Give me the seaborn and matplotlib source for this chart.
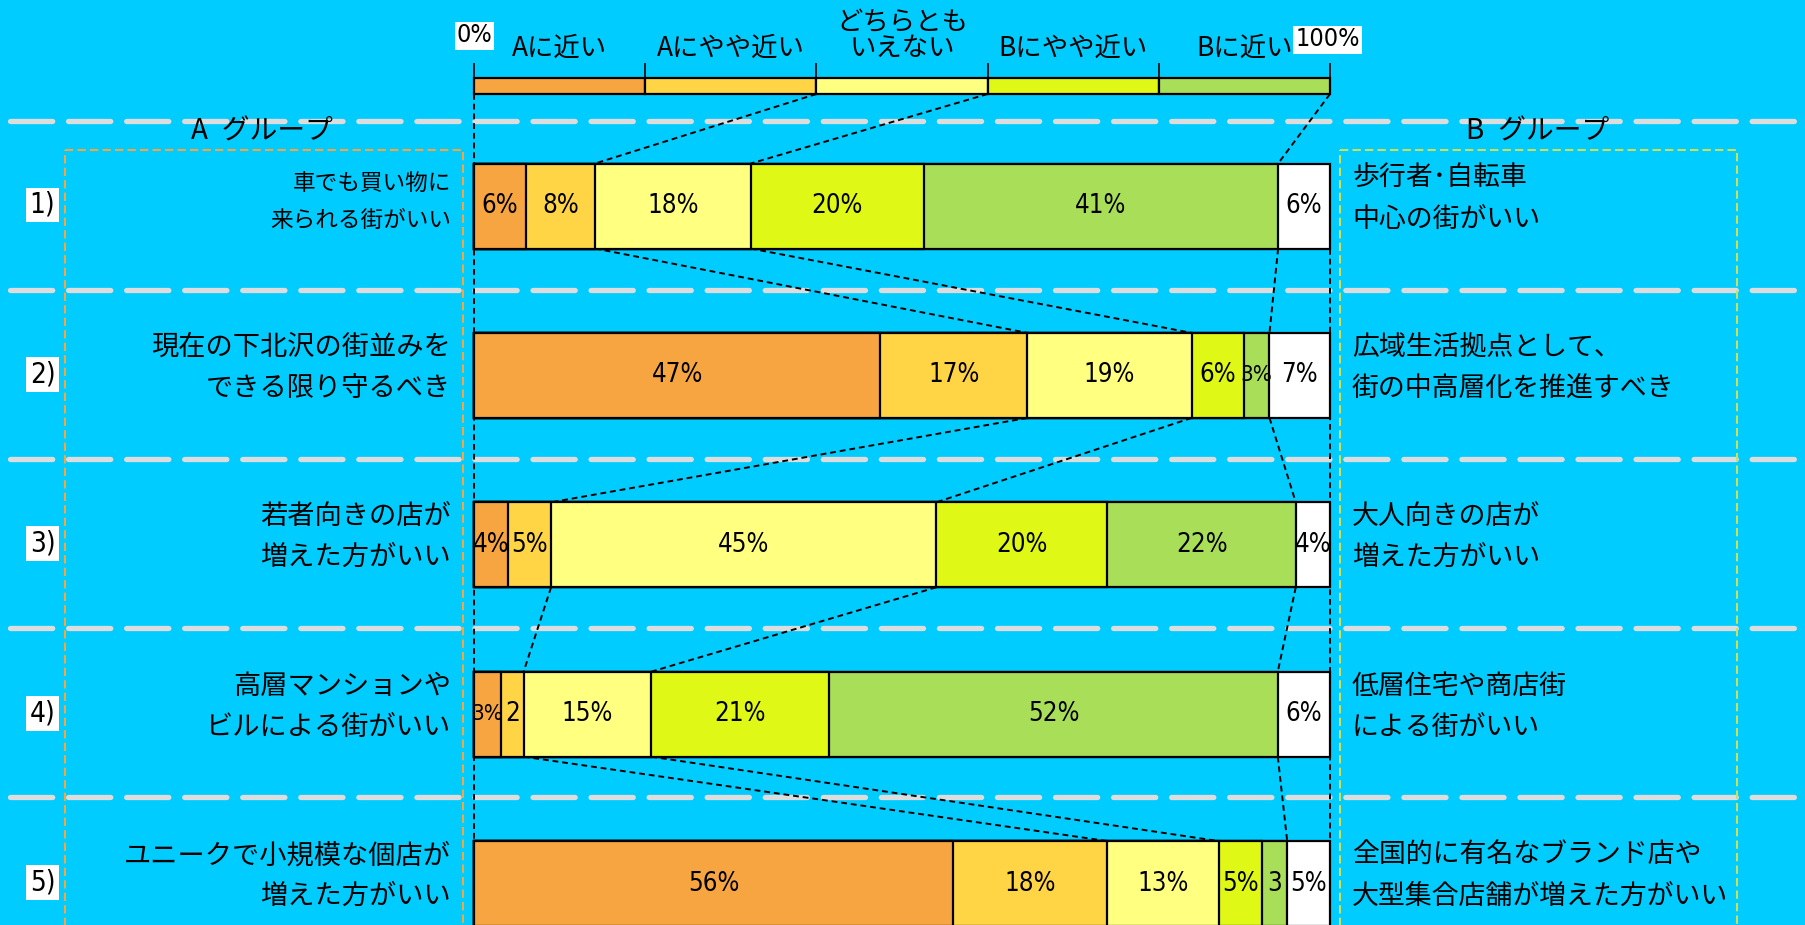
import matplotlib
matplotlib.use("Agg")
import numpy as np
import pandas as pd
import matplotlib.pyplot as plt
from matplotlib import font_manager
from matplotlib.font_manager import FontProperties
from matplotlib.patches import Rectangle
import seaborn as sns

# answer scale shown in the top key
scale_labels = ["Aに近い", "Aにやや近い", "どちらとも\nいえない", "Bにやや近い", "Bに近い"]
scale_share = [20, 20, 20, 20, 20]
seg_colors = ["#F7A541", "#FFD545", "#FFFF80", "#DFF816", "#A9DE58", "#FFFFFF"]

row_ids = ["1)", "2)", "3)", "4)", "5)"]
a_texts = ["車でも買い物に\n来られる街がいい",
           "現在の下北沢の街並みを\nできる限り守るべき",
           "若者向きの店が\n増えた方がいい",
           "高層マンションや\nビルによる街がいい",
           "ユニークで小規模な個店が\n増えた方がいい"]
b_texts = ["歩行者･自転車\n中心の街がいい",
           "広域生活拠点として、\n街の中高層化を推進すべき",
           "大人向きの店が\n増えた方がいい",
           "低層住宅や商店街\nによる街がいい",
           "全国的に有名なブランド店や\n大型集合店舗が増えた方がいい"]

# shares per question: A近い, Aやや近い, どちらとも, Bやや近い, B近い, 無回答
q1 = [6, 8, 18, 20, 41, 6]
q2 = [47, 17, 19, 6, 3, 7]
q3 = [4, 5, 45, 20, 22, 4]
q4 = [3.2, 2.6, 14.9, 20.8, 52.4, 6.1]
q5 = [56, 18, 13, 5, 3, 5]

lab1 = ["6%", "8%", "18%", "20%", "41%", "6%"]
lab2 = ["47%", "17%", "19%", "6%", "3%", "7%"]
lab3 = ["4%", "5%", "45%", "20%", "22%", "4%"]
lab4 = ["3%", "2", "15%", "21%", "52%", "6%"]
lab5 = ["56%", "18%", "13%", "5%", "3", "5%"]

sns.set_style("white")
plt.rcParams["font.family"] = ["Noto Sans CJK JP", "DejaVu Sans"]
plt.rcParams["text.color"] = "black"

# narrow face for the numbers, if one is installed
narrow = None
for f in font_manager.fontManager.ttflist:
    tag = (f.name + " " + str(f.stretch)).lower()
    if ("narrow" in tag or "condensed" in tag) and f.style == "normal" and f.weight in (400, "normal", "regular"):
        if narrow is None or "liberation" in f.name.lower() or "arial" in f.name.lower():
            narrow = f.fname


def num_font(size):
    if narrow:
        return FontProperties(fname=narrow, size=size)
    return FontProperties(family="Liberation Sans", size=size * 0.9)


BG = "#00CCFF"
fig = plt.figure(figsize=(18.05, 9.25), dpi=100, facecolor=BG)
ax = fig.add_axes([0, 0, 1, 1])
ax.set_facecolor(BG)

X0, X1 = 474, 1330


def px(v):
    return (v - X0) / (X1 - X0) * 100


vals = np.array([q1, q2, q3, q4, q5], dtype=float)
vals = vals / vals.sum(axis=1, keepdims=True) * 100
cum = vals.cumsum(axis=1)
labels = [lab1, lab2, lab3, lab4, lab5]
step = 169.4
row_y = 206 + step * np.arange(5)
bar_h = 85

# stacked bars: paint cumulative layers from the outside in
for k in range(5, -1, -1):
    d = pd.DataFrame({"y": row_y, "right": cum[:, k]})
    sns.barplot(data=d, x="right", y="y", orient="y", native_scale=True,
                color=seg_colors[k], saturation=1, width=bar_h / step,
                edgecolor="black", linewidth=1.6, errorbar=None, zorder=3, ax=ax)

# key bar at the top
leg_cum = np.cumsum(scale_share)
ax.barh(86, scale_share, left=leg_cum - np.array(scale_share), height=16,
        color=seg_colors[:5], edgecolor="black", linewidth=1.6, zorder=3)
ax.vlines(np.concatenate([[0], leg_cum]), 63, 78, color="black", lw=1.2, zorder=3)

# dashed connectors between bars
dash = dict(color="black", lw=1.4, ls=(0, (3, 2)), zorder=2)
prev, prev_bottom = leg_cum, 94
for i in range(5):
    top = row_y[i] - bar_h / 2
    for k in [1, 2, 4]:
        ax.plot([prev[k], cum[i, k]], [prev_bottom, top], **dash)
    prev, prev_bottom = cum[i], row_y[i] + bar_h / 2
ax.plot([0, 0], [94, 925], **dash)
ax.plot([100, 100], [row_y[0] + bar_h / 2, 925], **dash)

# gray separators
for y in [121, 290, 459, 628, 797]:
    ax.plot([px(10), px(1795)], [y, y], color="#DDDDDD", lw=3.8,
            ls=(0, (8, 3)), dash_capstyle="round", zorder=1)

# group boxes
ax.add_patch(Rectangle((px(65), 150), px(463) - px(65), 900, fill=False,
                       ec="#F7A541", lw=1.5, ls=(0, (4, 2)), zorder=1.5))
ax.add_patch(Rectangle((px(1340), 150), px(1737) - px(1340), 900, fill=False,
                       ec="#CDE05A", lw=1.5, ls=(0, (4, 2)), zorder=1.5))
ax.text(px(262), 132, "A\u2002グループ", fontsize=20, ha="center", va="center", zorder=4)
ax.text(px(1538), 132, "B\u2002グループ", fontsize=20, ha="center", va="center", zorder=4)

# key labels
for i, lab in enumerate(scale_labels):
    parts = lab.split("\n")
    ys = [22.5, 48.5] if len(parts) == 2 else [48]
    for s, y in zip(parts, ys):
        ax.text(10 + 20 * i, y, s, fontsize=19, ha="center", va="center", zorder=4)
box = dict(boxstyle="square,pad=0.08", fc="white", ec="none")
ax.text(px(474.5), 35.5, "0%", fontproperties=num_font(18), ha="center", va="center", bbox=box, zorder=4)
ax.text(px(1327.5), 39.5, "100%", fontproperties=num_font(18), ha="center", va="center", bbox=box, zorder=4)

# row texts
for i in range(5):
    yc = row_y[i]
    ax.text(px(42.5), yc - 1, row_ids[i], fontproperties=num_font(20), ha="center", va="center",
            bbox=dict(boxstyle="square,pad=0.12", fc="white", ec="none"), zorder=4)
    if i == 0:
        a_size, a_off = 16.3, [-23, 15]
    else:
        a_size, a_off = 19.6, [-28, 13]
    for s, o in zip(a_texts[i].split("\n"), a_off):
        ax.text(px(451), yc + o, s, fontsize=a_size, ha="right", va="center", zorder=4)
    for s, o in zip(b_texts[i].split("\n"), [-28, 13]):
        ax.text(px(1352), yc + o, s, fontsize=19.4, ha="left", va="center", zorder=4)
    for k in range(6):
        xc = cum[i, k] - vals[i, k] / 2
        tight = vals[i, k] < 3.5 and "%" in labels[i][k]
        size = 16 if tight else 18.5
        ax.text(xc, yc, labels[i][k], fontproperties=num_font(size), ha="center", va="center", zorder=4)

ax.set_xlim(px(0), px(1805))
ax.set_ylim(925, 0)
ax.set_axis_off()
fig.savefig("out.png", dpi=100, facecolor=BG)
